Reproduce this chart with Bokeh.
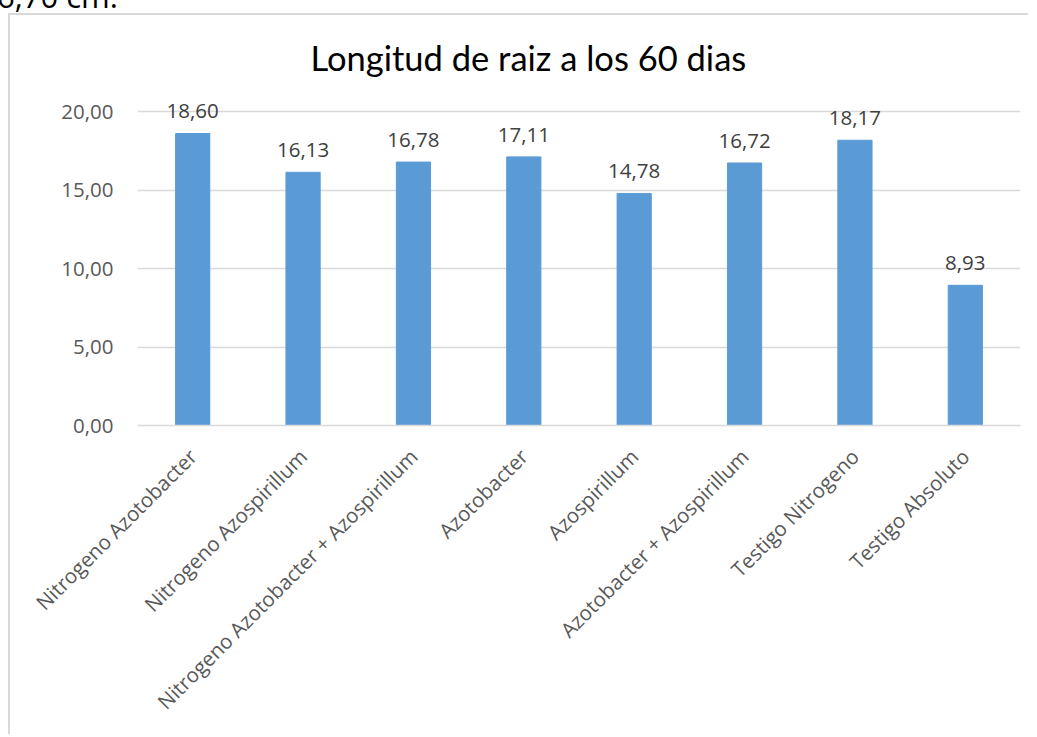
import math
from bokeh.plotting import figure
from bokeh.layouts import column
from bokeh.models import (ColumnDataSource, FactorRange, Range1d, FixedTicker,
                          CustomJSTickFormatter, LabelSet, Title, Div)
from bokeh.core.properties import value
from bokeh.embed import file_html
from bokeh.resources import INLINE

categories = ["Nitrogeno Azotobacter", "Nitrogeno Azospirillum",
              "Nitrogeno Azotobacter + Azospirillum", "Azotobacter", "Azospirillum",
              "Azotobacter + Azospirillum", "Testigo Nitrogeno", "Testigo Absoluto"]
values = [18.60, 16.13, 16.78, 17.11, 14.78, 16.72, 18.17, 8.93]
value_labels = ["18,60", "16,13", "16,78", "17,11", "14,78", "16,72", "18,17", "8,93"]
y_ticks = [0, 5, 10, 15, 20]
title_text = "Longitud de raiz a los 60 dias"
header_text = "6,70 cm."

FONT = "'Open Sans'"

src = ColumnDataSource(data=dict(cat=categories, val=values, lab=value_labels))

p = figure(x_range=FactorRange(factors=categories, range_padding=0),
           y_range=Range1d(0, 21.53),
           width=1020, height=721,
           output_backend="svg", toolbar_location=None,
           min_border_left=127, min_border_right=10, min_border_top=72,
           min_border_bottom=311,
           styles={"margin-left": "8px", "border-left": "2px solid #d9d9d9",
                   "border-top": "2px solid #d9d9d9"})
p.outline_line_color = None
p.background_fill_color = "white"
p.border_fill_color = "white"

p.vbar(x="cat", top="val", width=0.31, source=src, fill_color="#5b9bd5",
       line_color="#5b9bd5")

labels = LabelSet(x="cat", y="val", text="lab", source=src, y_offset=15,
                  text_align="center", text_baseline="alphabetic",
                  text_font=value(FONT), text_font_size="20.5px",
                  text_color="#404040")
p.add_layout(labels)

t = Title(text=title_text, align="left", offset=173, text_font="Lato",
          text_font_size="34.5px", text_font_style="normal", text_color="#000000",
          standoff=20)
p.add_layout(t, "above")

p.yaxis.ticker = FixedTicker(ticks=y_ticks)
p.yaxis.formatter = CustomJSTickFormatter(code="return tick.toFixed(2).replace('.', ',');")
p.yaxis.axis_line_color = None
p.yaxis.major_tick_line_color = None
p.yaxis.major_tick_out = 0
p.yaxis.major_tick_in = 0
p.yaxis.minor_tick_line_color = None
p.yaxis.major_label_standoff = 24
p.yaxis.major_label_text_font = FONT
p.yaxis.major_label_text_font_size = "20.5px"
p.yaxis.major_label_text_color = "#595959"

p.xaxis.axis_line_color = "#d9d9d9"
p.xaxis.axis_line_width = 1.5
p.xaxis.major_tick_line_color = None
p.xaxis.major_tick_out = 0
p.xaxis.major_tick_in = 0
p.xaxis.minor_tick_line_color = None
p.xaxis.major_label_orientation = math.pi / 4
p.xaxis.major_label_standoff = 27
p.xaxis.major_label_text_font = FONT
p.xaxis.major_label_text_font_size = "20.5px"
p.xaxis.major_label_text_color = "#595959"

p.xgrid.grid_line_color = None
p.ygrid.grid_line_color = "#d9d9d9"
p.ygrid.grid_line_width = 1.5

header = Div(text=('<div style="position:relative; top:-20px; left:-3px; '
                   'font-family:\'Open Sans\'; font-size:31px; line-height:32px; '
                   'color:#000; white-space:nowrap">' + header_text + '</div>'),
             width=300, height=13, margin=(0, 0, 0, 0))

layout = column(header, p, spacing=0)

open("out.html", "w").write(file_html(layout, INLINE))
